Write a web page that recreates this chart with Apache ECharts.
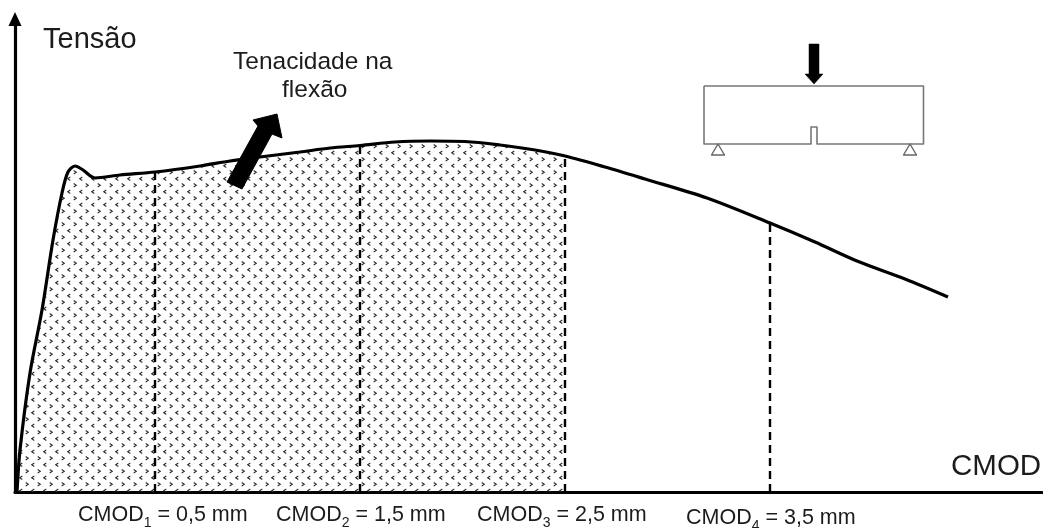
<!DOCTYPE html>
<html><head><meta charset="utf-8">
<style>html,body{margin:0;padding:0;background:#fff}#c{width:1043px;height:528px}</style>
<script src="https://cdn.jsdelivr.net/npm/echarts@6/dist/echarts.min.js"></script>
</head><body><div id="c"></div>
<script>
const curveX = [2,5,15,27,38,47,53,60,68,80,105,140,185,215,245,285,315,345,380,415,450,485,520,550,590,630,692,755,800,842,890,933];
const curveY = [0,42,119,182,252,299,320,326,322,314,317,320,326,331,335,340,344,346.5,350,351,350.5,347,342,336,325,313,294,269,250,231,213,195];
const cmodX = [140,345,550,755];
const cmodTop = [319,346,335,268];
const cmodNames = ['1','2','3','4'];
const cmodValues = ['0,5 mm','1,5 mm','2,5 mm','3,5 mm'];
const yName = 'Tensão', xName = 'CMOD';
const noteLines = ['Tenacidade na','flexão'];
const bigArrow = [[212,310],[243,366],[238,372],[262,378],[267,354],[257,358],[227,303]];
const beam = [[689,406],[908.5,406],[908.5,348],[802,348],[802,365],[796,365],[796,348],[689,348],[689,406]];
const loadArrow = [[794,448],[804,448],[804,418],[808,418],[799,408],[790,418],[794,418]];
const supportL = [[703,348],[696.5,337],[709.5,337]];
const supportR = [[895,348],[888.5,337],[901.5,337]];

const tile = document.createElement('canvas');
tile.width = 12; tile.height = 13;
const g = tile.getContext('2d');
g.strokeStyle = '#2a2a2a'; g.lineWidth = 1.05;
function chev(x,y,d){g.beginPath();g.moveTo(x-d*1.3,y-1.7);g.lineTo(x+d*1.3,y);g.lineTo(x-d*1.3,y+1.7);g.stroke();}
chev(3,3.25,1); chev(9,9.75,-1);

const pts = curveX.map((x,i)=>[x,curveY[i]]);
const areaPts = pts.filter(p=>p[0]<=550);
const font = '"Liberation Sans", Arial, sans-serif';
const ink = '#1c1c1c';

function shapeSeries(points, fill, stroke, lw){
  return {type:'custom',coordinateSystem:'cartesian2d',silent:true,z:6,clip:false,
    data:[[0,0]],
    encode:{x:0,y:1},
    renderItem:(p,api)=>({type:fill?'polygon':'polyline',
      shape:{points:points.map(q=>api.coord(q))},
      style:{fill:fill||'none',stroke:stroke||fill,lineWidth:lw||0,lineJoin:'round'}})};
}

const series = [
 {type:'line',data:areaPts,smooth:0.3,showSymbol:false,silent:true,z:1,
  lineStyle:{width:0},areaStyle:{color:{image:tile,repeat:'repeat'},opacity:1}},
 ...cmodX.map((x,i)=>({type:'line',data:[[x,0],[x,cmodTop[i]]],showSymbol:false,silent:true,z:3,
  lineStyle:{color:'#000',width:2.4,type:[8,5]}})),
 {type:'line',data:pts,smooth:0.3,showSymbol:false,silent:true,z:4,
  lineStyle:{color:'#000',width:3.2}},
 shapeSeries(bigArrow,'#000','#000',1),
 shapeSeries(beam,null,'#777',1.6),
 shapeSeries(loadArrow,'#000','#000',0.5),
 shapeSeries(supportL,'#fff','#666',1.4),
 shapeSeries(supportR,'#fff','#666',1.4)
];

const labelPos = [[78,519],[276,519],[477,519],[686,522]];
const texts = [
 {type:'text',left:43,top:25,style:{text:yName,font:'29px '+font,fill:ink}},
 {type:'text',left:951,top:452,style:{text:xName,font:'29.5px '+font,fill:ink}},
 {type:'text',left:233,top:50,style:{text:noteLines[0],font:'24.5px '+font,fill:ink}},
 {type:'text',left:282,top:78,style:{text:noteLines[1],font:'24.5px '+font,fill:ink}},
 ...cmodNames.map((n,i)=>({type:'text',x:labelPos[i][0],y:labelPos[i][1],
   style:{text:'{a|CMOD}{s|'+n+'}{a| = '+cmodValues[i]+'}',verticalAlign:'middle',
     rich:{a:{font:'21.5px '+font,fill:ink,lineHeight:22,verticalAlign:'bottom',padding:[0,0,4,0]},
           s:{font:'14px '+font,fill:ink,lineHeight:14,verticalAlign:'bottom'}}}}))
];

const chart = echarts.init(document.getElementById('c'));
chart.setOption({
 animation:false,backgroundColor:'#fff',
 grid:{left:15,top:19,width:1027,height:473,containLabel:false},
 xAxis:{type:'value',min:0,max:1027,splitLine:{show:false},axisTick:{show:false},axisLabel:{show:false},
   axisLine:{onZero:false,lineStyle:{color:'#000',width:3.2}}},
 yAxis:{type:'value',min:0,max:473,splitLine:{show:false},axisTick:{show:false},axisLabel:{show:false},
   axisLine:{onZero:false,symbol:['none','triangle'],symbolSize:[13,14],lineStyle:{color:'#000',width:3.2}}},
 series,
 graphic:texts
});
</script></body></html>
